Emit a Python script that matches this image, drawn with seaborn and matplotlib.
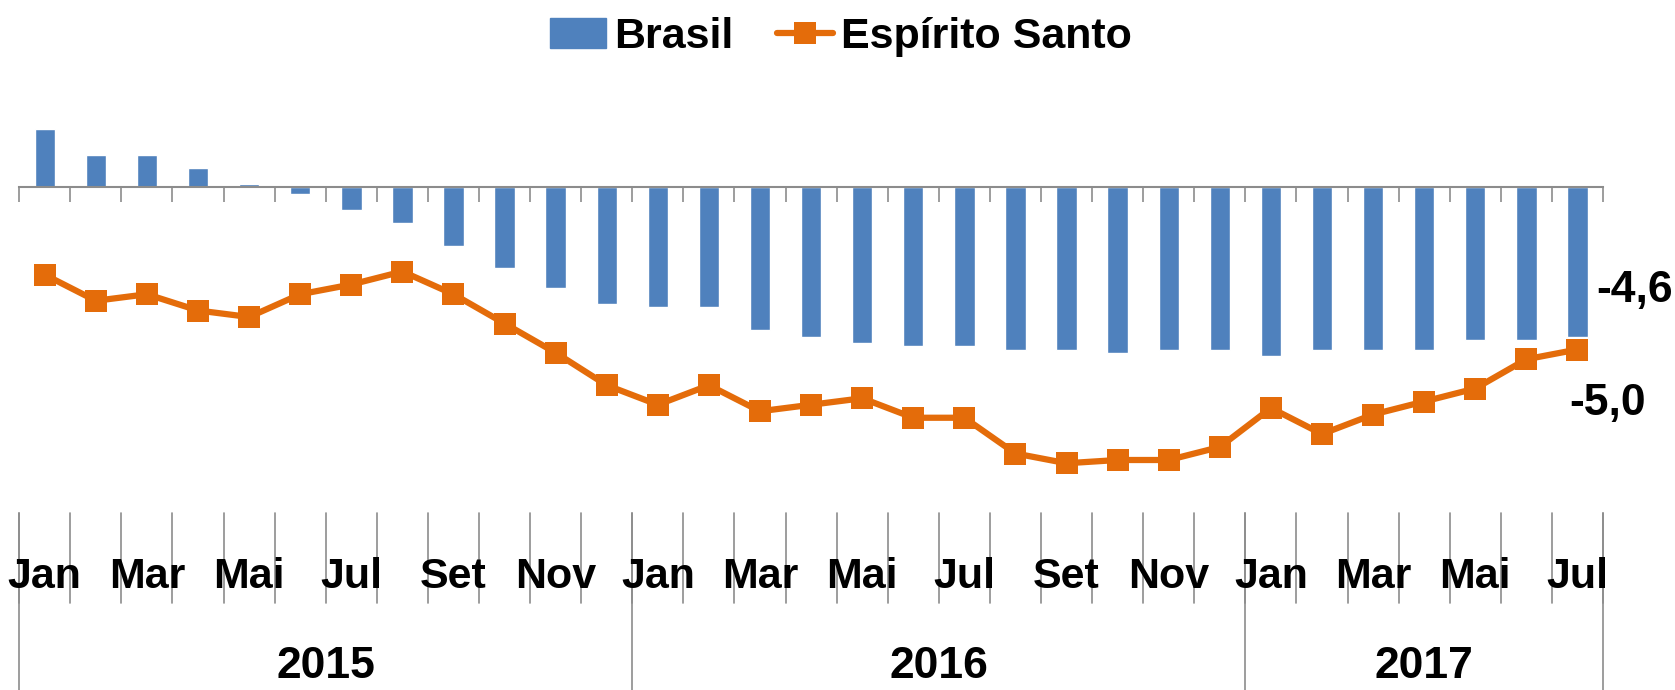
import numpy as np
import pandas as pd
import seaborn as sns
import matplotlib.pyplot as plt
from matplotlib.lines import Line2D
from matplotlib.patches import Patch
from matplotlib.transforms import blended_transform_factory

# data (Jan/2015 .. Jul/2017)
months_pt = ['Jan', 'Fev', 'Mar', 'Abr', 'Mai', 'Jun', 'Jul', 'Ago', 'Set', 'Out', 'Nov', 'Dez']
years = ['2015', '2016', '2017']
months_per_year = [12, 12, 7]
brasil = [1.8, 1.0, 1.0, 0.6, 0.1, -0.2, -0.7, -1.1, -1.8, -2.5, -3.1, -3.6, -3.7, -3.7, -4.4, -4.6,
          -4.8, -4.9, -4.9, -5.0, -5.0, -5.1, -5.0, -5.0, -5.2, -5.0, -5.0, -5.0, -4.7, -4.7, -4.6]
espirito_santo = [-2.7, -3.5, -3.3, -3.8, -4.0, -3.3, -3.0, -2.6, -3.3, -4.2, -5.1, -6.1, -6.7, -6.1, -6.9, -6.7,
                  -6.5, -7.1, -7.1, -8.2, -8.5, -8.4, -8.4, -8.0, -6.8, -7.6, -7.0, -6.6, -6.2, -5.3, -5.0]

month_labels = []
keys = []
for y, n in zip(years, months_per_year):
    for m in range(n):
        month_labels.append(months_pt[m])
        keys.append(f"{y}-{m + 1:02d}")
n = len(keys)
df = pd.DataFrame({'key': keys, 'mes': month_labels, 'Brasil': brasil, 'Espírito Santo': espirito_santo})

sns.set_style("white")
plt.rcParams['font.family'] = ['Liberation Sans Narrow', 'Liberation Sans', 'DejaVu Sans']
plt.rcParams['font.weight'] = 'bold'
plt.rcParams['text.color'] = 'black'

blue = '#4F81BD'
orange = '#E46C0A'
grey = '#8C8C8C'

fig = plt.figure(figsize=(16.75, 6.9), dpi=100)
ax = fig.add_axes([19.2 / 1675, 190 / 690, (1603 - 19.2) / 1675, 420 / 690])

sns.barplot(data=df, x='key', y='Brasil', color=blue, width=0.4, saturation=1, ax=ax)
sns.lineplot(x=np.arange(n), y=df['Espírito Santo'], color=orange, lw=4.5, marker='s', ms=15.5,
             mec=orange, mew=0, ax=ax)

ax.set_xlim(-0.5, n - 0.5)
ax.set_ylim(-(500 - 187) / 32.5, (187 - 80) / 32.5)
for s in ['top', 'right', 'left']:
    ax.spines[s].set_visible(False)
ax.spines['bottom'].set_position(('data', 0))
ax.spines['bottom'].set_color(grey)
ax.spines['bottom'].set_linewidth(1.5)
ax.set_xticks(np.arange(-0.5, n, 1))
ax.set_xticklabels([])
ax.tick_params(axis='x', direction='out', length=11, width=1.2, color=grey, bottom=True)
ax.set_yticks([])
ax.set_xlabel('')
ax.set_ylabel('')

# two-level category axis below the plot
tr = blended_transform_factory(ax.transData, fig.transFigure)
y_top = 1 - 513 / 690
y_mid = 1 - 603 / 690
for b in np.arange(-0.5, n, 1):
    ax.plot([b, b], [y_top, y_mid], color=grey, lw=1.2, transform=tr, clip_on=False)
for i, lab in enumerate(month_labels):
    if i % 2 == 0:
        ax.text(i, 1 - 577 / 690, lab, transform=tr, ha='center', va='center', fontsize=31, fontweight='bold')
start = 0
for y, cnt in zip(years, months_per_year):
    ax.plot([start - 0.5, start - 0.5], [y_top, 0], color=grey, lw=1.2, transform=tr, clip_on=False)
    ax.text(start + (cnt - 1) / 2, 1 - 666 / 690, y, transform=tr, ha='center', va='center',
            fontsize=32, fontweight='bold')
    start += cnt
ax.plot([n - 0.5, n - 0.5], [y_top, 0], color=grey, lw=1.2, transform=tr, clip_on=False)

# end labels
ax.annotate(f"{brasil[-1]:.1f}".replace('.', ','), xy=(n - 1, brasil[-1]), xytext=(41, 33),
            textcoords='offset points', ha='center', va='center', fontsize=32, fontweight='bold')
ax.annotate(f"{espirito_santo[-1]:.1f}".replace('.', ','), xy=(n - 1, espirito_santo[-1]), xytext=(22, -39),
            textcoords='offset points', ha='center', va='center', fontsize=32, fontweight='bold')

handles = [Patch(color=blue, label='Brasil'),
           Line2D([], [], color=orange, lw=4.5, marker='s', ms=15.5, mew=0, label='Espírito Santo')]
fig.legend(handles=handles, loc='center', bbox_to_anchor=(0.502, 1 - 37 / 690), ncol=2, frameon=False,
           prop={'size': 31, 'weight': 'bold'}, handlelength=1.3, handletextpad=0.2, columnspacing=1.0)

fig.savefig('out.png', dpi=100)
